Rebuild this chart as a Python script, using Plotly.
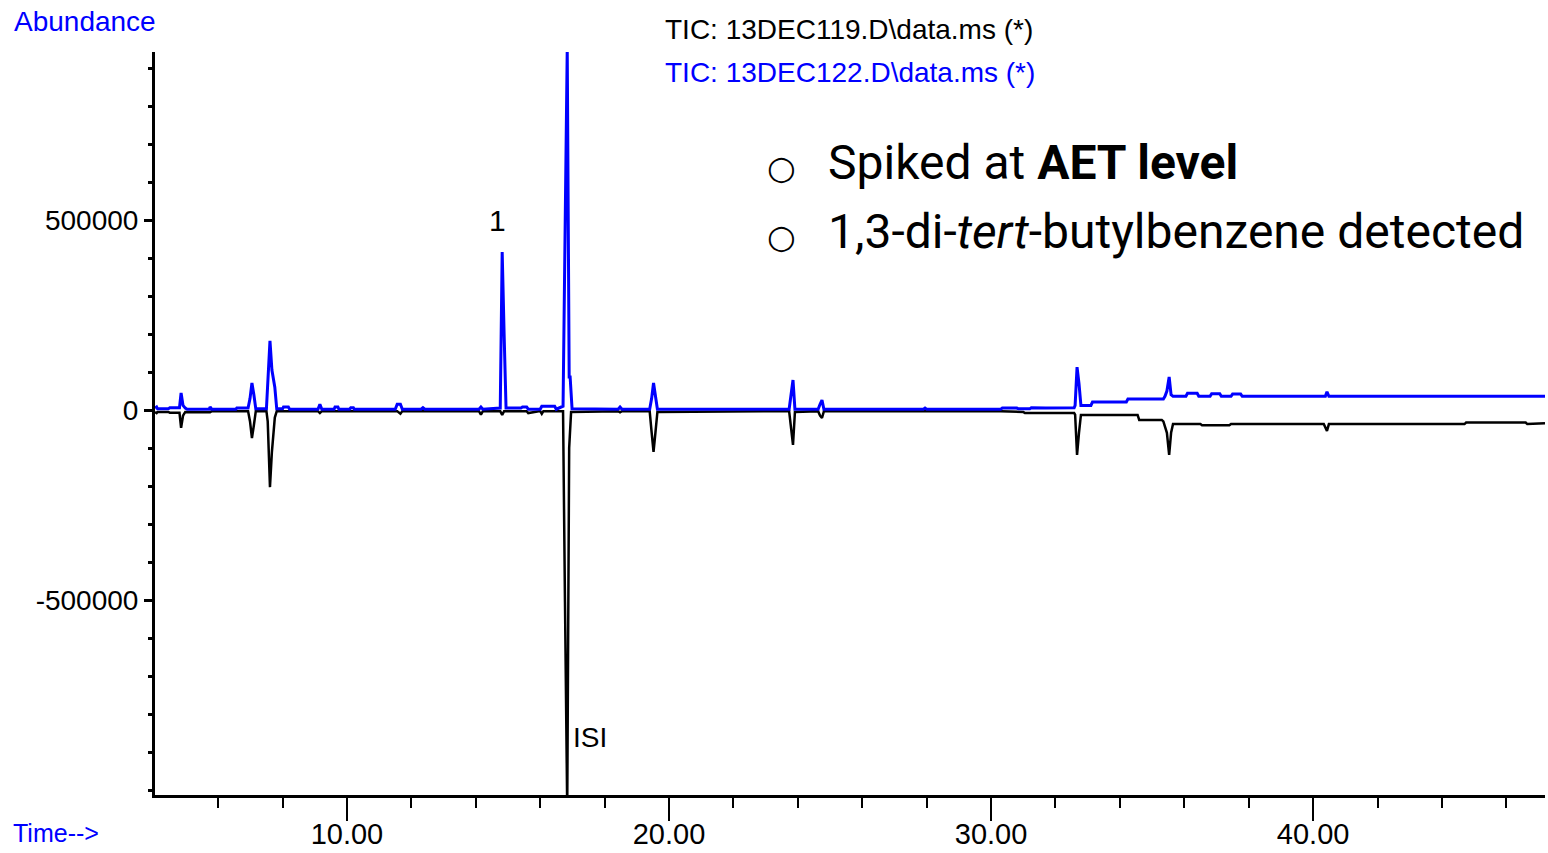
import plotly.graph_objects as go

# ---- data: TIC 13DEC122 (blue, upward) ----
t_122 = [4.04, 4.09, 4.12, 4.45, 4.50, 4.80, 4.85, 4.91, 4.98, 5.04, 5.72, 5.75, 5.80,
         6.55, 6.58, 6.93, 6.99, 7.05, 7.11, 7.17, 7.50, 7.54, 7.61, 7.67, 7.76, 7.82,
         8.00, 8.03, 8.18, 8.22, 9.10, 9.16, 9.22, 9.60, 9.63, 9.72, 9.75, 10.08, 10.12,
         10.20, 10.23, 11.50, 11.56, 11.66, 11.72, 12.30, 12.36, 12.42, 14.10, 14.16, 14.22,
         14.76, 14.82, 14.88, 14.94, 15.40, 15.45, 15.58, 15.63, 16.00, 16.05, 16.45, 16.50,
         16.71, 16.77, 16.84, 16.90, 16.93, 16.99, 18.42, 18.48, 18.54, 19.40, 19.46, 19.52,
         19.58, 19.64, 23.73, 23.79, 23.85, 23.91, 24.63, 24.69, 24.75, 24.81, 27.90, 27.95,
         28.00, 30.30, 30.35, 30.80, 30.85, 31.20, 31.25, 31.70, 32.58, 32.61, 32.67, 32.73,
         32.79, 33.10, 33.15, 34.20, 34.25, 35.35, 35.40, 35.46, 35.53, 35.59, 35.65, 36.05,
         36.10, 36.40, 36.45, 36.80, 36.85, 37.10, 37.15, 37.45, 37.50, 37.75, 37.80, 40.33,
         40.38, 40.43, 40.49, 47.20]
a_122 = [5000, 8000, 3000, 3000, 6000, 6000, 45000, 12000, 5000, 2000, 2000, 8000, 2000,
         2000, 5000, 5000, 30000, 71000, 40000, 3000, 3000, 60000, 182000, 105000, 60000, 3000,
         3000, 8000, 8000, 2000, 2000, 15000, 2000, 2000, 8000, 8000, 2000, 2000, 6000,
         6000, 2000, 2000, 15000, 15000, 2000, 2000, 6000, 2000, 2000, 8000, 2000,
         5000, 416000, 200000, 5000, 5000, 8000, 8000, 2000, 2000, 10000, 10000, 2000,
         10000, 476000, 950000, 87000, 87000, 3000, 2000, 8000, 2000, 2000, 30000, 71000,
         37000, 2000, 2000, 37000, 79000, 2000, 2000, 15000, 26000, 2000, 2000, 5000,
         2000, 2000, 5000, 5000, 3000, 3000, 6000, 5000, 6000, 12000, 113000, 70000,
         12000, 12000, 21000, 21000, 29000, 29000, 36000, 50000, 87000, 40000, 36000, 36000,
         44000, 44000, 36000, 36000, 43000, 43000, 36000, 36000, 42000, 42000, 36000, 36000,
         36000, 48000, 36000, 36000]

# ---- data: TIC 13DEC119 (black, plotted downward) ----
t_119 = [4.04, 4.09, 4.12, 4.45, 4.50, 4.80, 4.85, 4.91, 4.98, 5.72, 5.75, 5.80,
         6.93, 6.99, 7.05, 7.11, 7.17, 7.50, 7.54, 7.61, 7.67, 7.76, 7.82, 9.10, 9.16,
         9.22, 11.56, 11.66, 11.72, 14.10, 14.16, 14.22, 14.76, 14.82, 14.88, 15.58, 15.63,
         16.00, 16.05, 16.10, 16.71, 16.77, 16.84, 16.90, 16.96, 18.42, 18.48, 18.54,
         19.40, 19.46, 19.52, 19.58, 19.64, 23.73, 23.79, 23.85, 23.91, 24.63, 24.69,
         24.75, 24.81, 30.30, 31.00, 31.05, 31.60, 32.58, 32.61, 32.67, 32.73, 32.79,
         34.55, 34.60, 35.30, 35.35, 35.46, 35.53, 35.59, 35.65, 36.50, 36.55, 37.40,
         37.45, 40.33, 40.38, 40.43, 40.49, 44.70, 44.75, 46.60, 46.65, 47.20]
a_119 = [-5000, -8000, -5000, -5000, -7000, -7000, -47000, -15000, -5000, -5000, -6000, -3000,
         -3000, -30000, -74000, -40000, -3000, -3000, -30000, -203000, -110000, -20000, -3000, -3000, -8000,
         -3000, -3000, -10000, -3000, -3000, -12000, -3000, -3000, -13000, -3000, -3000, -8000,
         -3000, -10000, -3000, -3000, -505000, -1050000, -100000, -5000, -3000, -6000, -3000,
         -3000, -58000, -110000, -58000, -5000, -3000, -47000, -92000, -5000, -3000, -15000,
         -21000, -3000, -3000, -5000, -8000, -8000, -8000, -12000, -118000, -60000, -13000,
         -13000, -26000, -26000, -30000, -60000, -118000, -60000, -37000, -37000, -40000, -40000,
         -37000, -37000, -45000, -55000, -37000, -37000, -33000, -33000, -37000, -35000]

x_tickvals = [10, 20, 30, 40]
x_ticktext = ["10.00", "20.00", "30.00", "40.00"]
y_tickvals = [-500000, 0, 500000]
y_ticktext = ["-500000", "0", "500000"]

NARROW = "Liberation Sans, Arial, sans-serif"
BLUE = "#0000FF"

# plot-area pixel geometry helpers (for paper-positioned labels)
L, R, T, B = 155, 1545, 52, 795
def px(x):
    return (x - L) / (R - L)
def py(y):
    return (B - y) / (B - T)

fig = go.Figure()
fig.add_trace(go.Scatter(x=t_119, y=a_119, mode="lines",
                         line=dict(color="black", width=2.5), hoverinfo="skip"))
fig.add_trace(go.Scatter(x=t_122, y=a_122, mode="lines",
                         line=dict(color=BLUE, width=3), hoverinfo="skip"))

fig.update_layout(
    width=1548, height=853,
    margin=dict(l=L, r=1548 - R, t=T, b=853 - B, autoexpand=False),
    paper_bgcolor="white", plot_bgcolor="white",
    showlegend=False,
    font=dict(family=NARROW, size=28, color="black"),
    xaxis=dict(range=[4.04, 47.2], showgrid=False, zeroline=False, automargin=False,
               showline=True, linecolor="black", linewidth=3,
               tickvals=x_tickvals, ticktext=x_ticktext,
               ticks="outside", ticklen=23, tickwidth=2, tickcolor="black",
               ticklabelstandoff=-12,
               minor=dict(dtick=2, tick0=0, ticks="outside", ticklen=10, tickwidth=2,
                          tickcolor="black", showgrid=False),
               tickfont=dict(family=NARROW, size=29, color="black")),
    yaxis=dict(range=[-1013158, 942105], showgrid=False, zeroline=False, automargin=False,
               showline=True, linecolor="black", linewidth=3,
               tickvals=y_tickvals, ticktext=y_ticktext,
               ticks="outside", ticklen=8, tickwidth=3, tickcolor="black",
               minor=dict(dtick=100000, tick0=0, ticks="outside", ticklen=4, tickwidth=3,
                          tickcolor="black", showgrid=False),
               tickfont=dict(family=NARROW, size=28, color="black")),
)

ann = [
    dict(text="Abundance", x=px(12), y=py(22), xanchor="left", yanchor="middle",
         font=dict(family=NARROW, size=28, color=BLUE)),
    dict(text="Time-->", x=px(11), y=py(833), xanchor="left", yanchor="middle",
         font=dict(family=NARROW, size=25, color=BLUE)),
    dict(text="TIC: 13DEC119.D\\data.ms (*)", x=px(663), y=py(30), xanchor="left", yanchor="middle",
         font=dict(family=NARROW, size=28, color="black")),
    dict(text="TIC: 13DEC122.D\\data.ms (*)", x=px(663), y=py(72), xanchor="left", yanchor="middle",
         font=dict(family=NARROW, size=28, color=BLUE)),
    dict(text="○", x=px(765), y=py(168), xanchor="left", yanchor="middle",
         font=dict(family="DejaVu Sans", size=33, color="black")),
    dict(text="○", x=px(765), y=py(236), xanchor="left", yanchor="middle",
         font=dict(family="DejaVu Sans", size=33, color="black")),
    dict(text="Spiked at <b>AET level</b>", x=px(826), y=py(163), xanchor="left", yanchor="middle",
         font=dict(family="Roboto", size=48, color="black")),
    dict(text="1,3-di-<i>tert</i>-butylbenzene detected", x=px(826), y=py(232), xanchor="left",
         yanchor="middle", font=dict(family="Roboto", size=48, color="black")),
]
for a in ann:
    a.update(xref="paper", yref="paper", showarrow=False)
    fig.add_annotation(**a)

fig.add_annotation(x=14.66, y=500000, text="1", showarrow=False,
                   font=dict(family=NARROW, size=30, color="black"))
fig.add_annotation(x=17.55, y=-863000, text="ISI", showarrow=False,
                   font=dict(family=NARROW, size=28, color="black"))

fig.write_html("out.html", config={"displayModeBar": False},
               post_script="document.body.style.margin='0';document.body.style.overflow='hidden';")
